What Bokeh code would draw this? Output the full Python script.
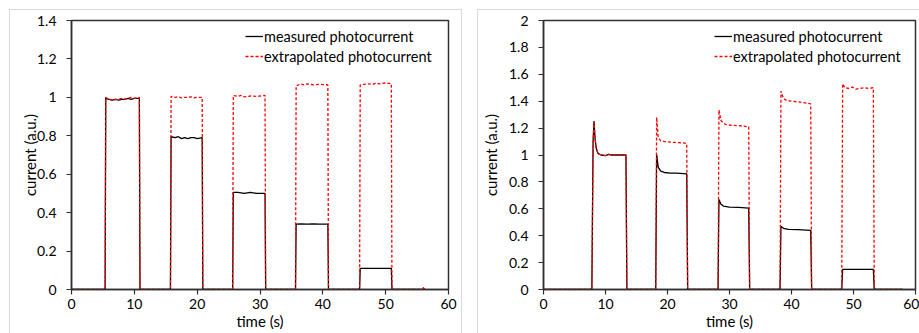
from bokeh.plotting import figure
from bokeh.layouts import row
from bokeh.models import FixedTicker, CustomJSTickFormatter, Legend, LegendItem, Range1d
from bokeh.embed import file_html
from bokeh.resources import INLINE

FONT = "Lato"

# ---------------- data: left panel ----------------
left_meas_t = [0, 5.35, 5.45, 6.0, 6.5, 7.0, 7.5, 8.0, 8.5, 9.0, 9.5, 10.0, 10.8, 10.9,
               15.75, 15.85, 16.5, 17.0, 17.5, 18.0, 18.5, 19.0, 19.5, 20.0, 20.8, 20.9,
               25.65, 25.75, 26.5, 27.5, 28.5, 29.5, 30.8, 30.9,
               35.65, 35.75, 36.5, 37.5, 38.5, 39.5, 40.8, 40.9,
               45.85, 45.95, 47.0, 48.0, 49.0, 50.0, 50.9, 51.0, 56.2]
left_meas_y = [0, 0, 0.995, 0.99, 0.985, 0.99, 0.985, 0.99, 0.99, 0.995, 0.99, 0.995, 0.995, 0,
               0, 0.795, 0.79, 0.795, 0.785, 0.79, 0.785, 0.79, 0.79, 0.785, 0.79, 0,
               0, 0.505, 0.505, 0.5, 0.505, 0.5, 0.5, 0,
               0, 0.34, 0.342, 0.34, 0.341, 0.34, 0.34, 0,
               0, 0.11, 0.11, 0.11, 0.11, 0.11, 0.11, 0, 0]
left_extr_t = [0, 5.35, 5.45, 6.0, 6.5, 7.0, 7.5, 8.0, 8.5, 9.0, 9.5, 10.0, 10.8, 10.9,
               15.75, 15.85, 16.5, 17.0, 17.5, 18.0, 18.5, 19.0, 19.5, 20.0, 20.8, 20.9,
               25.65, 25.75, 26.5, 27.0, 27.5, 28.5, 29.5, 30.8, 30.9,
               35.65, 35.75, 36.5, 37.0, 37.5, 38.5, 39.5, 40.8, 40.9,
               45.85, 45.95, 47.0, 48.0, 48.5, 49.0, 50.0, 50.9, 51.0,
               55.9, 56.05, 56.2]
left_extr_y = [0, 0, 1.0, 0.99, 0.985, 0.99, 0.99, 0.995, 0.99, 0.995, 1.0, 0.995, 1.0, 0,
               0, 1.005, 1.0, 1.003, 0.997, 1.0, 1.0, 1.003, 0.998, 1.0, 1.0, 0,
               0, 1.01, 1.005, 1.01, 1.003, 1.007, 1.005, 1.01, 0,
               0, 1.06, 1.07, 1.065, 1.07, 1.065, 1.068, 1.065, 0,
               0, 1.065, 1.07, 1.068, 1.075, 1.07, 1.075, 1.07, 0,
               0, 0.015, 0]

# ---------------- data: right panel ----------------
right_meas_t = [0, 7.8, 8.0, 8.15, 8.3, 8.5, 8.8, 9.3, 10.0, 10.5, 11.0, 12.0, 13.3, 13.45,
                18.1, 18.25, 18.5, 18.9, 19.5, 20.5, 21.5, 23.1, 23.25,
                28.15, 28.3, 28.6, 29.0, 30.0, 31.5, 33.1, 33.25,
                38.15, 38.3, 38.7, 39.5, 41.0, 43.1, 43.25,
                48.1, 48.25, 50.0, 52.0, 53.2, 53.35, 57.9]
right_meas_y = [0, 0, 1.1, 1.25, 1.13, 1.05, 1.01, 1.0, 0.995, 1.005, 1.0, 1.0, 1.0, 0,
                0, 1.005, 0.91, 0.88, 0.87, 0.865, 0.865, 0.86, 0,
                0, 0.67, 0.635, 0.62, 0.612, 0.61, 0.605, 0,
                0, 0.47, 0.455, 0.447, 0.445, 0.44, 0,
                0, 0.15, 0.15, 0.15, 0.15, 0, 0]
right_extr_t = [0, 7.8, 8.0, 8.15, 8.3, 8.5, 8.8, 9.3, 10.0, 10.5, 11.0, 12.0, 13.3, 13.45,
                18.1, 18.25, 18.5, 18.9, 19.5, 20.5, 21.5, 22.5, 23.1, 23.25,
                28.15, 28.3, 28.6, 29.0, 29.5, 30.5, 31.5, 33.1, 33.25,
                38.15, 38.3, 38.7, 39.2, 40.0, 41.0, 42.0, 43.1, 43.25,
                48.1, 48.25, 48.6, 49.2, 49.8, 50.4, 51.0, 51.8, 52.5, 53.2, 53.35, 57.9]
right_extr_y = [0, 0, 1.1, 1.25, 1.13, 1.05, 1.01, 1.0, 0.995, 1.005, 1.0, 1.0, 1.0, 0,
                0, 1.28, 1.13, 1.105, 1.1, 1.095, 1.093, 1.09, 1.085, 0,
                0, 1.335, 1.26, 1.235, 1.225, 1.22, 1.218, 1.21, 0,
                0, 1.475, 1.42, 1.405, 1.4, 1.395, 1.39, 1.38, 0,
                0, 1.53, 1.5, 1.495, 1.505, 1.49, 1.495, 1.5, 1.495, 1.5, 0, 0]

x_ticks = [0, 10, 20, 30, 40, 50, 60]
left_y_ticks = [0, 0.2, 0.4, 0.6, 0.8, 1.0, 1.2, 1.4]
right_y_ticks = [0, 0.2, 0.4, 0.6, 0.8, 1.0, 1.2, 1.4, 1.6, 1.8, 2.0]

series_labels = ["measured photocurrent", "extrapolated photocurrent"]
x_label = "time (s)"
y_label = "current (a.u.)"


def make_fig(mt, my, et, ey, y_ticks, ymax, width, bl, br, ml, ystand, legx):
    p = figure(width=width, height=323, output_backend="svg", toolbar_location=None,
               x_range=Range1d(0, 60), y_range=Range1d(0, ymax),
               min_border_left=bl, min_border_right=br, min_border_top=10, min_border_bottom=44)
    p.margin = (10, 0, 0, ml)
    p.styles = {"outline": "1px solid #d9d9d9"}
    p.xgrid.visible = False
    p.ygrid.visible = False
    p.outline_line_color = "#303030"
    p.outline_line_width = 1.5
    p.background_fill_color = "white"
    p.border_fill_color = "white"

    fmt = CustomJSTickFormatter(code="return (Math.round(tick*10)/10).toString();")
    for ax, ticks in ((p.xaxis[0], x_ticks), (p.yaxis[0], y_ticks)):
        ax.ticker = FixedTicker(ticks=ticks)
        ax.formatter = fmt
        ax.axis_line_color = "#303030"
        ax.axis_line_width = 1.5
        ax.major_tick_line_color = "#303030"
        ax.major_tick_line_width = 1.2
        ax.major_tick_out = 5
        ax.major_tick_in = 0
        ax.minor_tick_line_color = None
        ax.major_label_text_font = FONT
        ax.major_label_text_font_size = "14px"
        ax.major_label_text_color = "#000000"
        ax.axis_label_text_font = FONT
        ax.axis_label_text_font_size = "15px"
        ax.axis_label_text_font_style = "normal"
        ax.axis_label_text_color = "#000000"
    p.xaxis[0].axis_label = x_label
    p.xaxis[0].major_label_standoff = 4
    p.xaxis[0].axis_label_standoff = 0
    p.yaxis[0].axis_label = y_label
    p.yaxis[0].major_label_standoff = 10
    p.yaxis[0].axis_label_standoff = ystand

    r1 = p.line(mt, my, line_color="black", line_width=1.3)
    r2 = p.line(et, ey, line_color="#ff0000", line_width=1.3, line_dash="3 2")

    leg = Legend(items=[LegendItem(label=series_labels[0], renderers=[r1]),
                        LegendItem(label=series_labels[1], renderers=[r2])],
                 location=(legx, 223))
    leg.background_fill_alpha = 0
    leg.border_line_alpha = 0
    leg.padding = 0
    leg.margin = 0
    leg.spacing = 0
    leg.label_height = 20
    leg.glyph_height = 20
    leg.glyph_width = 18
    leg.label_standoff = 1
    leg.label_text_font = FONT
    leg.label_text_font_size = "14.5px"
    leg.label_text_color = "#000000"
    p.add_layout(leg)
    return p


p1 = make_fig(left_meas_t, left_meas_y, left_extr_t, left_extr_y, left_y_ticks, 1.4,
              451, 61, 13, 10, -5, 174)
p2 = make_fig(right_meas_t, right_meas_y, right_extr_t, right_extr_y, right_y_ticks, 2.0,
              441, 64, 4, 17, 6, 171)

layout = row(p1, p2)
open("out.html", "w").write(file_html(layout, INLINE))
